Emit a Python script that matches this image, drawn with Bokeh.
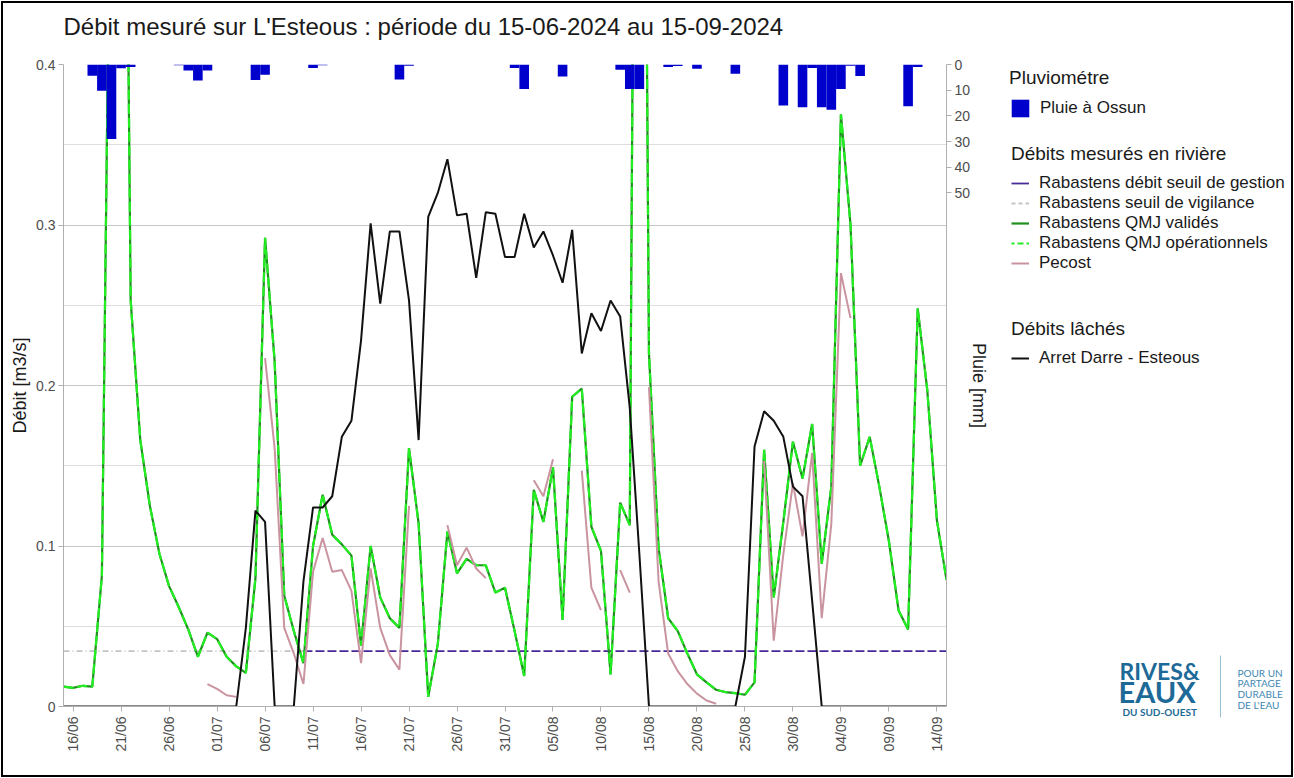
import numpy as np
import pandas as pd
from bokeh.plotting import figure
from bokeh.layouts import row, column
from bokeh.models import (Range1d, LinearAxis, FixedTicker, SingleIntervalTicker,
                          DatetimeTickFormatter, Legend, LegendItem, Label,
                          BoxAnnotation, ColumnDataSource)
from bokeh.embed import file_html
from bokeh.resources import INLINE

NaN = np.nan

# ---------------- data ----------------
start_date = "2024-06-15"
end_date = "2024-09-15"
dates = pd.date_range(start_date, end_date, freq="D")

# daily rain at Ossun (mm)
rain = [
    0, 0, 0, 4.4, 10.2, 29, 1.5, 1.0, 0, 0,
    0, 0, 0.3, 2.3, 6.2, 2.3, 0, 0, 0, 0,
    6, 4, 0, 0, 0, 0, 1.4, 0.3, 0, 0,
    0, 0, 0, 0, 0, 5.8, 0.5, 0, 0, 0,
    0, 0, 0, 0, 0, 0, 0, 1.4, 9.5, 0,
    0, 0, 4.7, 0, 0, 0, 0, 0, 2.0, 9.5,
    9.5, 0, 0, 1.0, 0.6, 0, 1.7, 0, 0, 0,
    3.6, 0, 0, 0, 0, 16, 0, 16.6, 1.4, 16.6,
    17.6, 9.5, 0.5, 4.5, 0, 0, 0, 0, 16.3, 1.0,
    0, 0, 0,
]

# Rabastens QMJ (m3/s)
qmj = [
    0.0124, 0.0116, 0.0129, 0.0124, 0.0815, 0.60, 0.90, 0.253, 0.166, 0.125,
    0.095, 0.075, 0.062, 0.048, 0.031, 0.046, 0.042, 0.031, 0.025, 0.021,
    0.080, 0.292, 0.215, 0.069, 0.047, 0.027, 0.100, 0.132, 0.107, 0.101,
    0.094, 0.038, 0.100, 0.068, 0.055, 0.049, 0.161, 0.114, 0.006, 0.039,
    0.109, 0.083, 0.092, 0.088, 0.088, 0.071, 0.074, 0.047, 0.019, 0.135,
    0.115, 0.149, 0.054, 0.193, 0.198, 0.112, 0.097, 0.020, 0.127, 0.113,
    1.10, 0.22, 0.099, 0.055, 0.047, 0.033, 0.020, 0.015, 0.0104, 0.0089,
    0.0083, 0.0073, 0.015, 0.160, 0.068, 0.115, 0.165, 0.142, 0.176, 0.089,
    0.137, 0.369, 0.300, 0.150, 0.168, 0.137, 0.103, 0.060, 0.048, 0.248,
    0.197, 0.116, 0.079,
]

# Pecost (m3/s)
pecost = [
    NaN, NaN, NaN, NaN, NaN, NaN, NaN, NaN, NaN, NaN,
    NaN, NaN, NaN, NaN, NaN, 0.014, 0.011, 0.007, 0.006, NaN,
    NaN, 0.217, 0.161, 0.049, 0.033, 0.014, 0.084, 0.105, 0.084, 0.085,
    0.072, 0.027, 0.086, 0.049, 0.032, 0.023, 0.125, NaN, NaN, NaN,
    0.113, 0.088, 0.099, 0.086, 0.080, NaN, NaN, NaN, NaN, 0.141,
    0.131, 0.154, NaN, NaN, 0.147, 0.074, 0.060, NaN, 0.085, 0.071,
    NaN, 0.199, 0.078, 0.033, 0.022, 0.014, 0.008, 0.0037, 0.0017, NaN,
    NaN, NaN, NaN, 0.153, 0.041, 0.095, 0.139, 0.106, 0.158, 0.055,
    0.114, 0.270, 0.242, NaN, NaN, NaN, NaN, NaN, NaN, NaN,
    NaN, NaN, NaN,
]

# Arret Darre - Esteous released flow (m3/s)
darre = [
    0, 0, 0, 0, 0, 0, 0, 0, 0, 0,
    0, 0, 0, 0, 0, 0, 0, 0, 0, 0.049,
    0.122, 0.115, 0, 0, 0, 0.078, 0.124, 0.124, 0.131, 0.168,
    0.178, 0.228, 0.301, 0.251, 0.296, 0.296, 0.253, 0.166, 0.305, 0.320,
    0.341, 0.306, 0.307, 0.267, 0.308, 0.307, 0.280, 0.280, 0.307, 0.286,
    0.296, 0.281, 0.264, 0.297, 0.220, 0.245, 0.234, 0.253, 0.243, 0.186,
    0.095, 0, 0, 0, 0, 0, 0, 0, 0, 0,
    0, 0.031, 0.162, 0.184, 0.178, 0.168, 0.137, 0.131, 0.066, 0,
    0, 0, 0, 0, 0, 0, 0, 0, 0, 0,
    0, 0, 0,
]

# thresholds (m3/s) and the periods they are drawn over
vigilance_dates = ["2024-06-15", "2024-07-10"]
vigilance_vals = [0.0345, 0.0345]
gestion_dates = ["2024-07-10", "2024-09-15"]
gestion_vals = [0.0345, 0.0345]

tick_dates = ["2024-06-16", "2024-06-21", "2024-06-26", "2024-07-01", "2024-07-06",
              "2024-07-11", "2024-07-16", "2024-07-21", "2024-07-26", "2024-07-31",
              "2024-08-05", "2024-08-10", "2024-08-15", "2024-08-20", "2024-08-25",
              "2024-08-30", "2024-09-04", "2024-09-09", "2024-09-14"]
rain_ticks = [0, 10, 20, 30, 40, 50]

TITLE = "Débit mesuré sur L'Esteous : période du 15-06-2024 au 15-09-2024"
FONT = "Liberation Sans"

W, H_T, H_P, W_P = 1294, 54, 724, 1000
W_Q = W - W_P


def bare(fig):
    fig.outline_line_color = None
    fig.border_fill_color = None
    fig.background_fill_color = None
    fig.grid.visible = False


def no_align(fig):
    try:
        fig.frame_align = False
    except Exception:
        pass


# ---------------- title strip ----------------
t = figure(width=W, height=H_T, x_range=Range1d(0, W), y_range=Range1d(0, H_T),
           x_axis_location=None, y_axis_location=None,
           output_backend="svg", toolbar_location=None, min_border=0)
bare(t)
no_align(t)
t.add_layout(Label(x=63, y=28, x_units="screen", y_units="screen", text=TITLE,
                   text_font=FONT, text_font_size="24px",
                   text_color="#1a1a1a", text_baseline="alphabetic"))

# ---------------- main chart ----------------
src = ColumnDataSource(data=dict(date=dates, rain=rain, qmj=qmj, pecost=pecost, darre=darre))
vig_src = ColumnDataSource(data=dict(date=pd.to_datetime(vigilance_dates), v=vigilance_vals))
ges_src = ColumnDataSource(data=dict(date=pd.to_datetime(gestion_dates), v=gestion_vals))

p = figure(width=W_P, height=H_P, x_axis_type="datetime",
           x_range=Range1d(pd.Timestamp(start_date), pd.Timestamp(end_date)),
           y_range=Range1d(0, 0.4),
           output_backend="svg", toolbar_location=None,
           min_border_left=63, min_border_right=54, min_border_top=10, min_border_bottom=72)
p.outline_line_color = None
p.border_fill_color = None
p.background_fill_color = None
no_align(p)
p.extra_y_ranges = {"rain": Range1d(start=250, end=0)}

p.xgrid.visible = False
p.ygrid.grid_line_color = "#c8c8c8"
p.ygrid.minor_grid_line_color = "#dedede"

p.yaxis.ticker = SingleIntervalTicker(interval=0.1, num_minor_ticks=2)
p.yaxis.major_label_overrides = {0: "0"}
p.yaxis.axis_label = "Débit [m3/s]"

rax = LinearAxis(y_range_name="rain", ticker=FixedTicker(ticks=rain_ticks), axis_label="Pluie [mm]")
p.add_layout(rax, "right")

p.xaxis.ticker = FixedTicker(ticks=[pd.Timestamp(d).value // 10**6 for d in tick_dates])
p.xaxis.formatter = DatetimeTickFormatter(days="%d/%m", months="%d/%m", hours="%d/%m",
                                          years="%d/%m")
p.xaxis.major_label_orientation = np.pi / 2

for ax in [p.xaxis[0], p.yaxis[0], rax]:
    ax.axis_line_color = "#b0b0b0"
    ax.major_tick_line_color = "#b0b0b0"
    ax.minor_tick_line_color = None
    ax.major_tick_out = 5
    ax.major_tick_in = 0
    ax.major_label_text_font = FONT
    ax.major_label_text_font_size = "14px"
    ax.major_label_text_color = "#4d4d4d"
    ax.major_label_standoff = 4
    ax.axis_label_text_font = FONT
    ax.axis_label_text_font_size = "18px"
    ax.axis_label_text_font_style = "normal"
    ax.axis_label_text_color = "#1a1a1a"
p.xaxis.major_label_standoff = 5
p.yaxis.major_label_standoff = 3
p.yaxis.axis_label_standoff = 3
rax.axis_label_standoff = -4

r_vig = p.line("date", "v", source=vig_src, line_color="#c4c4c4", line_width=1.6, line_dash="6 3 1 3")
r_ges = p.line("date", "v", source=ges_src, line_color="#47299a", line_width=1.8, line_dash="9 3")
r_val = p.line("date", "qmj", source=src, line_color="#1f8f1f", line_width=2.2)
r_op = p.line("date", "qmj", source=src, line_color="#22ee22", line_width=2.2, line_dash="10 4")
r_pec = p.line("date", "pecost", source=src, line_color="#c9949f", line_width=2)
r_dar = p.line("date", "darre", source=src, line_color="#111111", line_width=2)
r_rain = p.vbar(x="date", top="rain", bottom=0, width=86400000 * 1.0, source=src,
                y_range_name="rain", fill_color="#0000cc", line_color=None)

# ---------------- legend + logo panel ----------------
q = figure(width=W_Q, height=H_P, x_range=Range1d(0, W_Q), y_range=Range1d(0, H_P),
           x_axis_location=None, y_axis_location=None,
           output_backend="svg", toolbar_location=None, min_border=0)
bare(q)
no_align(q)

# legend swatches: renderers with a single missing point so nothing is drawn in the panel
k_rain = q.vbar(x=[NaN], top=[NaN], width=1, fill_color="#0000cc", line_color=None)
k_ges = q.line(x=[NaN], y=[NaN], line_color="#47299a", line_width=1.8)
k_vig = q.line(x=[NaN], y=[NaN], line_color="#c4c4c4", line_width=1.8, line_dash="4 3")
k_val = q.line(x=[NaN], y=[NaN], line_color="#1f8f1f", line_width=2.2)
k_op = q.line(x=[NaN], y=[NaN], line_color="#22ee22", line_width=2.2, line_dash="3 3 6 3")
k_pec = q.line(x=[NaN], y=[NaN], line_color="#c9949f", line_width=2)
k_dar = q.line(x=[NaN], y=[NaN], line_color="#111111", line_width=2)


def mk_legend(title, items, loc, gw=18, gh=20, standoff=10):
    return Legend(items=items, title=title, location=loc,
                  title_text_font=FONT, title_text_font_size="19px",
                  title_text_font_style="normal", title_text_color="#1a1a1a",
                  label_text_font=FONT, label_text_font_size="17px", label_text_color="#1a1a1a",
                  border_line_color=None, background_fill_alpha=0,
                  padding=0, margin=0, spacing=0, glyph_width=gw, glyph_height=gh,
                  label_height=gh, label_standoff=standoff, title_standoff=8)


# screen coords inside q: x = page_x - 1000, y = 778 - page_y
leg1 = mk_legend("Pluviométre", [LegendItem(label="Pluie à Ossun", renderers=[k_rain])],
                 (9, 659), gw=22, gh=22, standoff=9)
leg2 = mk_legend("Débits mesurés en rivière", [
    LegendItem(label="Rabastens débit seuil de gestion", renderers=[k_ges]),
    LegendItem(label="Rabastens seuil de vigilance", renderers=[k_vig]),
    LegendItem(label="Rabastens QMJ validés", renderers=[k_val]),
    LegendItem(label="Rabastens QMJ opérationnels", renderers=[k_op]),
    LegendItem(label="Pecost", renderers=[k_pec]),
], (11, 505))
leg3 = mk_legend("Débits lâchés", [LegendItem(label="Arret Darre - Esteous", renderers=[k_dar])], (11, 410))
for lg in (leg1, leg2, leg3):
    q.add_layout(lg)

LOGO = "#1d6a98"
LOGO2 = "#3f88b2"


def lab(x, y, txt, size, color, bold=True):
    q.add_layout(Label(x=x, y=y, x_units="screen", y_units="screen", text=txt,
                       text_font="Lato", text_font_size=size,
                       text_font_style="bold" if bold else "normal",
                       text_color=color, text_baseline="alphabetic", text_align="left"))


lab(119, 108, "RIVES&", "23px", LOGO)
lab(118, 87, "EAUX", "29px", LOGO)
lab(122, 67, "DU SUD-OUEST", "10px", LOGO)
for i, txt in enumerate(["POUR UN", "PARTAGE", "DURABLE", "DE L'EAU"]):
    lab(237, 106 - 10.7 * i, txt, "10px", LOGO2, bold=False)
q.add_layout(BoxAnnotation(left=219.5, right=220.5, bottom=61, top=123,
                           left_units="screen", right_units="screen",
                           bottom_units="screen", top_units="screen",
                           fill_color="#9cc0d6", fill_alpha=1, line_color=None))

layout = column(t, row(p, q, spacing=0), spacing=0)
layout.styles = {"outline": "2px solid black", "outline-offset": "-3px"}

open("out.html", "w").write(file_html(layout, INLINE))
